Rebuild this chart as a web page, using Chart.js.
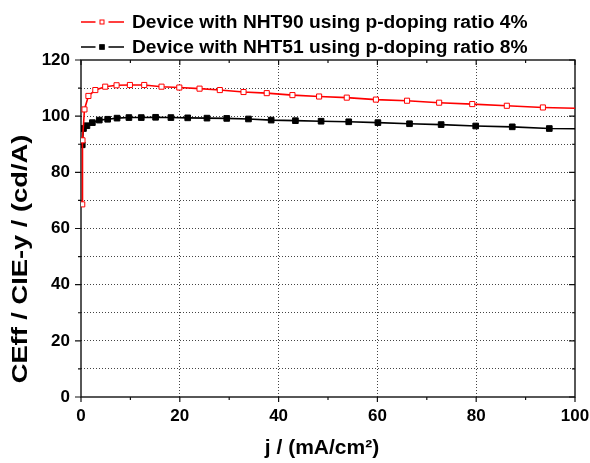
<!DOCTYPE html>
<html>
<head>
<meta charset="utf-8">
<script src="https://cdn.jsdelivr.net/npm/chart.js@4/dist/chart.umd.min.js"></script>
<style>
  html, body { margin: 0; padding: 0; background: #ffffff; }
  #wrap { width: 590px; height: 463px; }
</style>
</head>
<body>
<div id="wrap"><canvas id="chart" width="590" height="463"></canvas></div>
<script>
// ---- data ----
const seriesLabels = [
  'Device with NHT90 using p-doping ratio 4%',
  'Device with NHT51 using p-doping ratio 8%'
];
const xTitle = 'j / (mA/cm\u00B2)';
const yTitle = 'CEff / CIE-y / (cd/A)';
const xTickValues = [0, 20, 40, 60, 80, 100];
const yTickValues = [0, 20, 40, 60, 80, 100, 120];

// current density (mA/cm2) and efficiency (cd/A / CIE-y)
const nht90J   = [0.25, 0.3, 0.7, 1.5, 2.9, 4.9, 7.2, 9.9, 12.8, 16.3, 19.9, 24.0, 28.1, 32.9, 37.6, 42.8, 48.2, 53.8, 59.7, 66.0, 72.5, 79.2, 86.2, 93.5, 100];
const nht90Eff = [68.6, 91.4, 102.4, 107.2, 109.3, 110.5, 111.0, 111.1, 111.1, 110.5, 110.2, 109.8, 109.3, 108.6, 108.2, 107.5, 107.0, 106.6, 105.9, 105.5, 104.8, 104.3, 103.7, 103.1, 102.8];
const nht51J   = [0.25, 0.5, 1.2, 2.3, 3.7, 5.4, 7.3, 9.7, 12.2, 15.1, 18.2, 21.6, 25.5, 29.5, 33.9, 38.5, 43.4, 48.6, 54.2, 60.1, 66.5, 72.9, 79.9, 87.3, 94.8, 100];
const nht51Eff = [89.8, 95.6, 96.6, 97.7, 98.6, 98.9, 99.3, 99.5, 99.5, 99.6, 99.5, 99.4, 99.3, 99.2, 99.0, 98.6, 98.4, 98.2, 98.0, 97.7, 97.3, 97.0, 96.5, 96.2, 95.6, 95.5];

const FONT = "'Liberation Sans', Arial, Helvetica, sans-serif";

function toPoints(xs, ys) {
  return xs.map((x, i) => ({ x: x, y: ys[i] }));
}
// markers on every measured point except the closing one at the axis edge
function markerRadius(r) {
  return ctx => (ctx.dataIndex === ctx.dataset.data.length - 1 ? 0 : r);
}

// box frame with outward ticks on the left/bottom and inward ticks on the top/right
const frameTicks = {
  id: 'frameTicks',
  beforeDatasetsDraw(chart) {
    const { ctx, chartArea: a, scales: { x, y } } = chart;
    ctx.save();
    ctx.strokeStyle = '#111';
    ctx.lineWidth = 1.4;
    ctx.strokeRect(a.left, a.top, a.right - a.left, a.bottom - a.top);
    ctx.lineWidth = 1.2;
    ctx.beginPath();
    for (let v = 0; v <= 100; v += 10) {
      const px = x.getPixelForValue(v);
      const len = v % 20 === 0 ? 5 : 3;
      ctx.moveTo(px, a.bottom); ctx.lineTo(px, a.bottom + len);
      ctx.moveTo(px, a.top); ctx.lineTo(px, a.top + len);
    }
    for (let v = 0; v <= 120; v += 10) {
      const py = y.getPixelForValue(v);
      const len = v % 20 === 0 ? 6 : 3;
      ctx.moveTo(a.left, py); ctx.lineTo(a.left - len, py);
      ctx.moveTo(a.right, py); ctx.lineTo(a.right - len, py);
    }
    ctx.stroke();
    ctx.restore();
  }
};

// axis titles and the line-marker-line legend above the plot
const annotations = {
  id: 'annotations',
  afterDraw(chart) {
    const { ctx, chartArea: a } = chart;
    ctx.save();
    ctx.fillStyle = '#000';
    ctx.font = 'bold 21px ' + FONT;
    ctx.textAlign = 'center';
    ctx.textBaseline = 'middle';
    ctx.fillText(xTitle, (a.left + a.right) / 2 - 6, 448);
    ctx.save();
    ctx.translate(21, 259);
    ctx.rotate(-Math.PI / 2);
    ctx.scale(1.24, 1);
    ctx.font = 'bold 22px ' + FONT;
    ctx.fillText(yTitle, 0, 0);
    ctx.restore();

    const rows = [22, 47];
    chart.data.datasets.forEach((ds, i) => {
      const cy = rows[i];
      ctx.strokeStyle = ds.borderColor;
      ctx.lineWidth = 1.5;
      ctx.beginPath();
      ctx.moveTo(81, cy); ctx.lineTo(95.5, cy);
      ctx.moveTo(108.5, cy); ctx.lineTo(124, cy);
      ctx.stroke();
      const s = i === 0 ? 4 : 4.6;
      ctx.fillStyle = ds.pointBackgroundColor;
      ctx.fillRect(102 - s / 2, cy - s / 2, s, s);
      ctx.lineWidth = 1;
      ctx.strokeStyle = ds.pointBorderColor;
      ctx.strokeRect(102 - s / 2, cy - s / 2, s, s);
      ctx.fillStyle = '#000';
      ctx.font = 'bold 19.2px ' + FONT;
      ctx.textAlign = 'left';
      ctx.fillText(ds.label, 132, cy + 1);
    });
    ctx.restore();
  }
};

const gridColor = (lo, hi) => ctx =>
  (ctx.tick && (ctx.tick.value === lo || ctx.tick.value === hi)) ? 'rgba(0,0,0,0)' : '#444';

new Chart(document.getElementById('chart'), {
  type: 'line',
  data: {
    datasets: [
      {
        label: seriesLabels[0],
        data: toPoints(nht90J, nht90Eff),
        borderColor: '#ff0000',
        borderWidth: 1.6,
        pointStyle: 'rect',
        pointRadius: markerRadius(3.6),
        pointBackgroundColor: '#ffffff',
        pointBorderColor: '#ff0000',
        pointBorderWidth: 1,
        tension: 0
      },
      {
        label: seriesLabels[1],
        data: toPoints(nht51J, nht51Eff),
        borderColor: '#000000',
        borderWidth: 1.6,
        pointStyle: 'rect',
        pointRadius: markerRadius(4),
        pointBackgroundColor: '#000000',
        pointBorderColor: '#000000',
        pointBorderWidth: 1,
        tension: 0
      }
    ]
  },
  options: {
    responsive: false,
    animation: false,
    devicePixelRatio: 1,
    layout: { padding: { left: 0, right: 15, top: 60, bottom: 0 } },
    plugins: {
      legend: { display: false },
      tooltip: { enabled: false }
    },
    scales: {
      x: {
        type: 'linear',
        min: 0,
        max: 100,
        afterBuildTicks: s => { s.ticks = xTickValues.map(v => ({ value: v })); },
        afterFit: s => { s.height = 66; s.paddingLeft = 0; s.paddingRight = 0; },
        grid: { color: gridColor(0, 100), lineWidth: 1, drawTicks: false },
        border: { display: false, dash: [1, 2] },
        ticks: {
          color: '#000',
          padding: 9,
          maxRotation: 0,
          font: { family: FONT, size: 17, weight: 'bold' }
        }
      },
      y: {
        type: 'linear',
        min: 0,
        max: 120,
        afterFit: s => { s.width = 81; s.paddingTop = 0; s.paddingBottom = 0; },
        grid: { color: gridColor(0, 120), lineWidth: 1, drawTicks: false },
        border: { display: false, dash: [1, 2] },
        ticks: {
          stepSize: 10,
          color: '#000',
          padding: 11,
          font: { family: FONT, size: 17, weight: 'bold' },
          callback: v => (yTickValues.includes(v) ? String(v) : '')
        }
      }
    }
  },
  plugins: [frameTicks, annotations]
});
</script>
</body>
</html>
